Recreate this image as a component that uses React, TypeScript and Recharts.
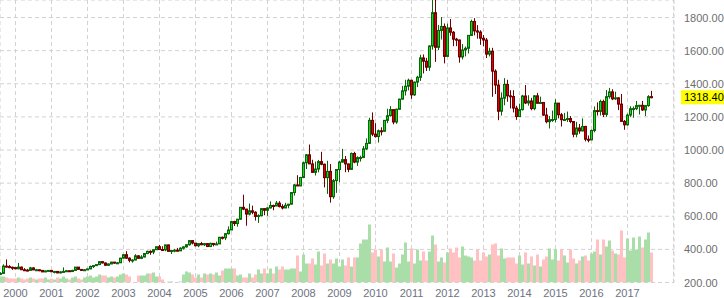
import React from 'react';
import { ComposedChart, Bar, XAxis, YAxis, CartesianGrid, ReferenceLine } from 'recharts';

// Monthly gold price (USD/oz), Aug 1999 – Sep 2017
const START_YEAR = 1999;
const START_MONTH = 8;

const opens = [
  253, 255, 299, 296, 292,
  290, 283, 293, 277, 275, 273, 288, 276, 277, 273, 264, 270,
  273, 265, 267, 258, 264, 267, 271, 266, 273, 293, 279, 275,
  277, 282, 297, 302, 308, 326, 318, 304, 312, 323, 317, 319,
  347, 368, 347, 334, 336, 361, 346, 354, 375, 388, 384, 398,
  416, 399, 397, 427, 388, 393, 395, 391, 407, 415, 428, 453,
  438, 422, 435, 428, 435, 417, 436, 429, 433, 473, 470, 495,
  517, 568, 556, 582, 654, 643, 613, 633, 624, 599, 604, 646,
  636, 650, 665, 662, 679, 659, 650, 666, 673, 743, 789, 783,
  834, 923, 971, 916, 865, 885, 930, 914, 833, 871, 718, 815,
  882, 927, 942, 916, 883, 979, 927, 954, 955, 1007, 1040, 1179,
  1096, 1081, 1116, 1113, 1179, 1207, 1244, 1169, 1246, 1307, 1357, 1385,
  1421, 1333, 1410, 1439, 1556, 1536, 1500, 1628, 1829, 1620, 1722, 1746,
  1565, 1737, 1711, 1669, 1664, 1562, 1604, 1614, 1692, 1776, 1719, 1712,
  1675, 1664, 1579, 1596, 1476, 1392, 1234, 1313, 1396, 1327, 1323, 1253,
  1202, 1244, 1326, 1284, 1296, 1250, 1327, 1282, 1287, 1211, 1171, 1183,
  1184, 1283, 1213, 1183, 1184, 1190, 1172, 1095, 1133, 1115, 1142, 1065,
  1061, 1118, 1238, 1233, 1293, 1215, 1322, 1351, 1309, 1315, 1277, 1173,
  1152, 1211, 1249, 1250, 1268, 1270, 1242, 1268, 1322,
];

const highs = [
  262, 310, 339, 305, 296,
  292, 318, 296, 287, 282, 294, 292, 282, 278, 275, 272, 275,
  273, 268, 268, 268, 291, 276, 271, 277, 293, 293, 280, 281,
  284, 302, 303, 310, 327, 330, 320, 315, 325, 324, 323, 349,
  372, 389, 352, 340, 371, 365, 365, 378, 392, 394, 400, 417,
  427, 419, 427, 428, 395, 403, 409, 413, 418, 430, 454, 456,
  438, 437, 445, 439, 436, 441, 436, 447, 475, 477, 497, 539,
  570, 573, 584, 654, 730, 645, 677, 664, 630, 612, 650, 648,
  654, 690, 670, 692, 691, 673, 681, 674, 745, 795, 848, 838,
  930, 975, 1033, 941, 930, 940, 989, 918, 935, 915, 825, 882,
  935, 1007, 964, 917, 985, 989, 962, 966, 1024, 1070, 1195, 1227,
  1162, 1124, 1137, 1180, 1249, 1265, 1244, 1250, 1310, 1387, 1424, 1431,
  1424, 1413, 1448, 1575, 1577, 1556, 1632, 1913, 1921, 1755, 1803, 1764,
  1763, 1791, 1718, 1677, 1667, 1640, 1625, 1692, 1787, 1796, 1754, 1723,
  1694, 1676, 1617, 1617, 1487, 1424, 1348, 1434, 1424, 1361, 1361, 1267,
  1280, 1333, 1392, 1331, 1315, 1332, 1345, 1322, 1287, 1255, 1205, 1238,
  1307, 1284, 1224, 1224, 1232, 1205, 1175, 1170, 1157, 1191, 1146, 1088,
  1123, 1263, 1287, 1304, 1304, 1362, 1375, 1367, 1352, 1318, 1338, 1181,
  1220, 1264, 1263, 1296, 1272, 1296, 1271, 1331, 1357,
];

const lows = [
  252, 252, 290, 286, 276,
  280, 280, 276, 273, 268, 271, 275, 271, 268, 263, 262, 267,
  262, 255, 256, 255, 263, 265, 264, 265, 270, 276, 272, 272,
  277, 281, 288, 299, 306, 315, 302, 300, 311, 313, 315, 318,
  345, 343, 322, 320, 334, 342, 341, 351, 371, 367, 371, 397,
  399, 393, 389, 388, 372, 383, 387, 390, 399, 411, 423, 430,
  418, 413, 425, 420, 414, 414, 418, 427, 433, 460, 456, 490,
  517, 541, 537, 580, 637, 543, 605, 612, 574, 560, 599, 606,
  602, 647, 636, 661, 653, 641, 649, 648, 670, 725, 782, 782,
  834, 885, 917, 862, 846, 865, 908, 774, 735, 682, 705, 741,
  805, 923, 866, 866, 882, 920, 904, 930, 951, 1001, 1038, 1084,
  1075, 1045, 1088, 1113, 1162, 1202, 1155, 1158, 1243, 1305, 1329, 1360,
  1309, 1327, 1380, 1417, 1462, 1477, 1478, 1606, 1532, 1603, 1667, 1523,
  1563, 1690, 1627, 1627, 1527, 1547, 1565, 1583, 1690, 1692, 1672, 1635,
  1626, 1555, 1565, 1321, 1338, 1180, 1208, 1270, 1291, 1251, 1227, 1182,
  1200, 1238, 1277, 1268, 1240, 1240, 1281, 1280, 1206, 1161, 1130, 1170,
  1167, 1191, 1142, 1178, 1169, 1162, 1077, 1077, 1098, 1113, 1052, 1046,
  1060, 1107, 1208, 1208, 1199, 1200, 1310, 1301, 1302, 1241, 1171, 1122,
  1147, 1200, 1195, 1241, 1214, 1236, 1205, 1261, 1312,
];

const closes = [
  255, 299, 296, 292, 290,
  283, 293, 277, 275, 273, 288, 276, 277, 273, 264, 270, 273,
  265, 267, 258, 264, 267, 271, 266, 273, 293, 279, 275, 277,
  282, 297, 302, 308, 326, 318, 304, 312, 323, 317, 319, 347,
  368, 347, 334, 336, 361, 346, 354, 375, 388, 384, 398, 416,
  399, 397, 427, 388, 393, 395, 391, 407, 415, 428, 453, 438,
  422, 435, 428, 435, 417, 436, 429, 433, 473, 470, 495, 517,
  568, 556, 582, 654, 643, 613, 633, 624, 599, 604, 646, 636,
  650, 665, 662, 679, 659, 650, 666, 673, 743, 789, 783, 834,
  923, 971, 916, 865, 885, 930, 914, 833, 871, 718, 815, 882,
  927, 942, 916, 883, 979, 927, 954, 955, 1007, 1040, 1179, 1096,
  1081, 1116, 1113, 1179, 1207, 1244, 1169, 1246, 1307, 1357, 1385, 1421,
  1333, 1410, 1439, 1556, 1536, 1500, 1628, 1829, 1620, 1722, 1746, 1565,
  1737, 1711, 1669, 1664, 1562, 1604, 1614, 1692, 1776, 1719, 1712, 1675,
  1664, 1579, 1596, 1476, 1392, 1234, 1313, 1396, 1327, 1323, 1253, 1202,
  1244, 1326, 1284, 1296, 1250, 1327, 1282, 1287, 1211, 1171, 1183, 1184,
  1283, 1213, 1183, 1184, 1190, 1172, 1095, 1133, 1115, 1142, 1065, 1061,
  1118, 1238, 1233, 1293, 1215, 1322, 1351, 1309, 1315, 1277, 1173, 1152,
  1211, 1249, 1250, 1268, 1270, 1242, 1268, 1322, 1318.4,
];

// Monthly volume (x10k contracts)
const volumes = [
  6, 6, 5, 4, 4,
  4, 5, 4, 3, 4, 5, 4, 3, 4, 4, 5, 3,
  4, 3, 5, 4, 6, 4, 3, 5, 6, 4, 3, 5,
  6, 7, 5, 6, 8, 7, 7, 5, 6, 5, 6, 8,
  9, 8, 6, 0, 0, 7, 7, 7, 9, 9, 10, 6,
  6, 3, 0, 1, 1, 0, 0, 1, 8, 11, 10, 8,
  5, 8, 5, 9, 8, 9, 8, 10, 7, 12, 14, 14,
  14, 14, 7, 8, 5, 5, 9, 5, 8, 13, 9, 14,
  9, 14, 9, 16, 13, 16, 13, 13, 14, 14, 27, 11,
  28, 19, 19, 24, 18, 31, 17, 29, 19, 23, 19, 24,
  16, 23, 17, 25, 16, 25, 25, 39, 43, 43, 58, 30,
  33, 26, 33, 21, 35, 21, 29, 15, 19, 28, 40, 21,
  34, 19, 33, 22, 31, 22, 31, 47, 38, 21, 25, 20,
  30, 34, 30, 35, 25, 36, 27, 26, 25, 22, 33, 22,
  30, 26, 28, 38, 39, 27, 34, 24, 25, 25, 25, 19,
  27, 18, 30, 19, 26, 17, 28, 16, 23, 26, 34, 23,
  33, 22, 33, 27, 20, 33, 24, 19, 22, 26, 27, 22,
  29, 31, 43, 28, 43, 36, 42, 32, 29, 28, 52, 25,
  44, 32, 45, 33, 46, 35, 43, 50, 30,
];

const yearTicks = [2000, 2001, 2002, 2003, 2004, 2005, 2006, 2007, 2008, 2009, 2010, 2011, 2012, 2013, 2014, 2015, 2016, 2017];
const priceTicks = [200, 400, 600, 800, 1000, 1200, 1400, 1600, 1800];

const data = opens.map((o, i) => {
  const m = START_MONTH - 1 + i;
  return {
    t: START_YEAR + m / 12,
    month: `${START_YEAR + Math.floor(m / 12)}-${String((m % 12) + 1).padStart(2, '0')}`,
    open: o,
    high: highs[i],
    low: lows[i],
    close: closes[i],
    vol: volumes[i],
  };
});

const LAST = closes[closes.length - 1];

// layout
const W = 724;
const H = 298;
const PLOT_W = 674;
const YAXIS_W = W - PLOT_W;
const XAXIS_H = 15.5;
const PX_PER_YEAR = 36;
const X0 = 2000 - 15.5 / PX_PER_YEAR;
const X1 = X0 + PLOT_W / PX_PER_YEAR;
const Y_MIN = 200;
const Y_MAX = 1800 + 17.5 / (265 / 1600);
const FONT = 'Arial, "Liberation Sans", sans-serif';

const Candle = (props: any) => {
  const { x, y, width, height, payload } = props;
  if (x == null || y == null || !payload) return null;
  const { open, close, high, low } = payload;
  const cx = Math.floor(x + width / 2) + 0.5;
  const top = Math.min(y, y + height);
  const h = Math.abs(height);
  const k = high !== low ? h / (high - low) : 0;
  const yO = top + (high - open) * k;
  const yC = top + (high - close) * k;
  const up = close >= open;
  const stroke = up ? '#0a650a' : '#6e0000';
  const fill = up ? '#1ad81a' : '#dd0000';
  const bTop = Math.min(yO, yC);
  const bH = Math.max(Math.abs(yC - yO), 1);
  return (
    <g>
      <line x1={cx} x2={cx} y1={top} y2={top + h} stroke={stroke} strokeWidth={1} />
      <rect x={cx - 1} y={bTop} width={2} height={bH} fill={fill} stroke={stroke} strokeWidth={1} />
    </g>
  );
};

const VolBar = (props: any) => {
  const { x, y, width, height, payload } = props;
  if (x == null || !payload || !height) return null;
  const cx = Math.floor(x + width / 2);
  const up = payload.close >= payload.open;
  return <rect x={cx - 1} y={y} width={3} height={height} fill={up ? '#a9dea9' : '#ffc1c1'} />;
};

const YTick = (props: any) => {
  const { x, y, payload } = props;
  return (
    <text x={x} y={y + 4} textAnchor="start" fontSize={11} fontFamily={FONT} fill="#6e6e6e">
      {Number(payload.value).toFixed(2)}
    </text>
  );
};

const XTick = (props: any) => {
  const { x, y, payload } = props;
  return (
    <text x={x} y={y + 14} textAnchor="middle" fontSize={11} fontFamily={FONT} fill="#6e7280">
      {payload.value}
    </text>
  );
};

const PriceTag = (props: any) => {
  const vb = props.viewBox || {};
  const yy = vb.y;
  const x0 = vb.x + vb.width + 7;
  return (
    <g>
      <rect x={x0} y={yy - 7} width={W - x0} height={14} fill="#ffff00" />
      <text x={x0 + 3} y={yy + 4} fontSize={11} fontFamily={FONT} fill="#000">
        {LAST.toFixed(2)}
      </text>
    </g>
  );
};

export default function App() {
  return (
    <div style={{ position: 'absolute', left: 0, top: 0, width: W, height: H, background: '#fff' }}>
      <ComposedChart width={W} height={H} data={data} margin={{ top: 0, right: 0, bottom: 0, left: 0 }}>
        <CartesianGrid stroke="#d2d2d2" strokeDasharray="4 3" />
        <XAxis
          dataKey="t"
          type="number"
          domain={[X0, X1]}
          allowDataOverflow
          ticks={yearTicks}
          interval={0}
          axisLine={false}
          tickLine={false}
          tickSize={0}
          tickMargin={0}
          height={XAXIS_H}
          tick={<XTick />}
        />
        <XAxis xAxisId="v" dataKey="t" type="number" domain={[X0, X1]} allowDataOverflow hide />
        <YAxis
          orientation="right"
          type="number"
          domain={[Y_MIN, Y_MAX]}
          allowDataOverflow
          ticks={priceTicks}
          interval={0}
          axisLine={false}
          tickLine={false}
          tickSize={0}
          tickMargin={10}
          width={YAXIS_W}
          tick={<YTick />}
        />
        <YAxis yAxisId="v" type="number" domain={[0, 282.5]} allowDataOverflow hide />
        <ReferenceLine x={X0 + (PLOT_W - 0.5) / PX_PER_YEAR} stroke="#d2d2d2" strokeDasharray="4 3" />
        <Bar
          dataKey="vol"
          xAxisId="v"
          yAxisId="v"
          barSize={3}
          isAnimationActive={false}
          shape={<VolBar />}
        />
        <Bar
          dataKey={(d: any) => [d.low, d.high]}
          barSize={3}
          isAnimationActive={false}
          shape={<Candle />}
        />
        <ReferenceLine y={LAST} stroke="none" label={<PriceTag />} />
      </ComposedChart>
    </div>
  );
}
